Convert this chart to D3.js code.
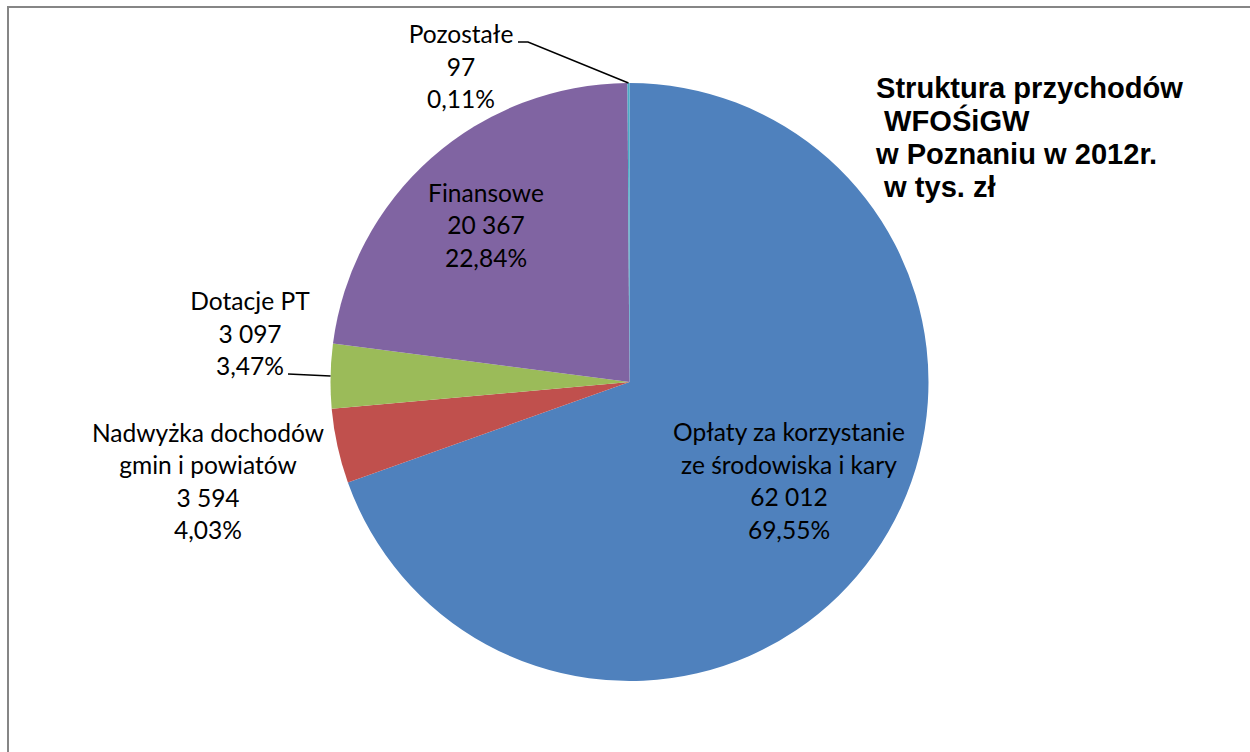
<!DOCTYPE html>
<html>
<head>
<meta charset="utf-8">
<script src="https://cdn.jsdelivr.net/npm/d3@7"></script>
<style>
  html, body { margin: 0; padding: 0; background: #fff; }
  svg { display: block; }
  text { white-space: pre; }
</style>
</head>
<body>
<svg id="chart" width="1250" height="752"></svg>
<script>
// ---- data ----
const categories = [
  "Opłaty za korzystanie ze środowiska i kary",
  "Nadwyżka dochodów gmin i powiatów",
  "Dotacje PT",
  "Finansowe",
  "Pozostałe"
];
const labelLines = [
  ["Opłaty za korzystanie", "ze środowiska i kary"],
  ["Nadwyżka dochodów", "gmin i powiatów"],
  ["Dotacje PT"],
  ["Finansowe"],
  ["Pozostałe"]
];
const values = [62012, 3594, 3097, 20367, 97];
const valueLabels = ["62 012", "3 594", "3 097", "20 367", "97"];
const percentLabels = ["69,55%", "4,03%", "3,47%", "22,84%", "0,11%"];
const colors = ["#4F81BD", "#C0504D", "#9BBB59", "#8064A2", "#4BACC6"];
const titleLines = ["Struktura przychodów", " WFOŚiGW", "w Poznaniu w 2012r.", " w tys. zł"];

// ---- layout ----
const W = 1250, H = 752;
const cx = 629.5, cy = 382, R = 299;
const lineH = 32.5;
// label anchor: centre x and first baseline y; leader: start point of line (null = none)
const labelLayout = [
  { x: 789, y: 441, leader: null },
  { x: 208, y: 441.5, leader: null },
  { x: 250, y: 310, leader: { x: 288, y: 374, bendX: null } },
  { x: 486, y: 201.5, leader: null },
  { x: 461, y: 43, leader: { x: 518, y: 42, bendX: 528 } }
];

const svg = d3.select("#chart");

// border
svg.append("rect")
  .attr("x", 8).attr("y", 7)
  .attr("width", W + 20).attr("height", H + 20)
  .attr("fill", "none").attr("stroke", "#868686").attr("stroke-width", 2);

const pie = d3.pie().value(d => d).sort(null);
const arcs = pie(values);
const arc = d3.arc().innerRadius(0).outerRadius(R);

const g = svg.append("g").attr("transform", `translate(${cx},${cy})`);
g.selectAll("path.slice")
  .data(arcs)
  .join("path")
  .attr("class", "slice")
  .attr("d", arc)
  .attr("fill", (d, i) => colors[i]);

// font sizing: fit label font (Lato as Calibri stand-in) to reference width
const labelFont = "Lato, Carlito, Calibri, sans-serif";
const probe = svg.append("text").attr("font-family", labelFont).attr("font-size", 100)
  .text("Opłaty za korzystanie");
const probeW = probe.node().getComputedTextLength();
probe.remove();
const labelSize = Math.min(28, 100 * 232 / probeW);

// leader lines
arcs.forEach((a, i) => {
  const L = labelLayout[i].leader;
  if (!L) return;
  const mid = (a.startAngle + a.endAngle) / 2;
  const ex = cx + R * Math.sin(mid);
  const ey = cy - R * Math.cos(mid);
  const pts = [[L.x, L.y]];
  if (L.bendX !== null) pts.push([L.bendX, L.y]);
  pts.push([ex, ey]);
  svg.append("path")
    .attr("d", d3.line()(pts))
    .attr("fill", "none").attr("stroke", "#000").attr("stroke-width", 1.5);
});

// labels
labelLines.forEach((lines, i) => {
  const all = lines.concat([valueLabels[i], percentLabels[i]]);
  const t = svg.append("text")
    .attr("font-family", labelFont)
    .attr("font-size", labelSize)
    .attr("fill", "#000")
    .attr("text-anchor", "middle");
  all.forEach((s, k) => {
    t.append("tspan")
      .attr("x", labelLayout[i].x)
      .attr("y", labelLayout[i].y + k * lineH)
      .text(s);
  });
});

// title
const titleFont = "'Liberation Sans', Arial, sans-serif";
const tprobe = svg.append("text").attr("font-family", titleFont).attr("font-weight", "bold")
  .attr("font-size", 100).text(titleLines[0]);
const tW = tprobe.node().getComputedTextLength();
tprobe.remove();
const titleSize = 100 * 307 / tW;
const title = svg.append("text")
  .attr("font-family", titleFont)
  .attr("font-weight", "bold")
  .attr("font-size", titleSize)
  .attr("fill", "#000");
const titleBase = [98, 131, 164, 197];
titleLines.forEach((s, k) => {
  title.append("tspan").attr("x", 876).attr("y", titleBase[k]).text(s);
});
</script>
</body>
</html>
